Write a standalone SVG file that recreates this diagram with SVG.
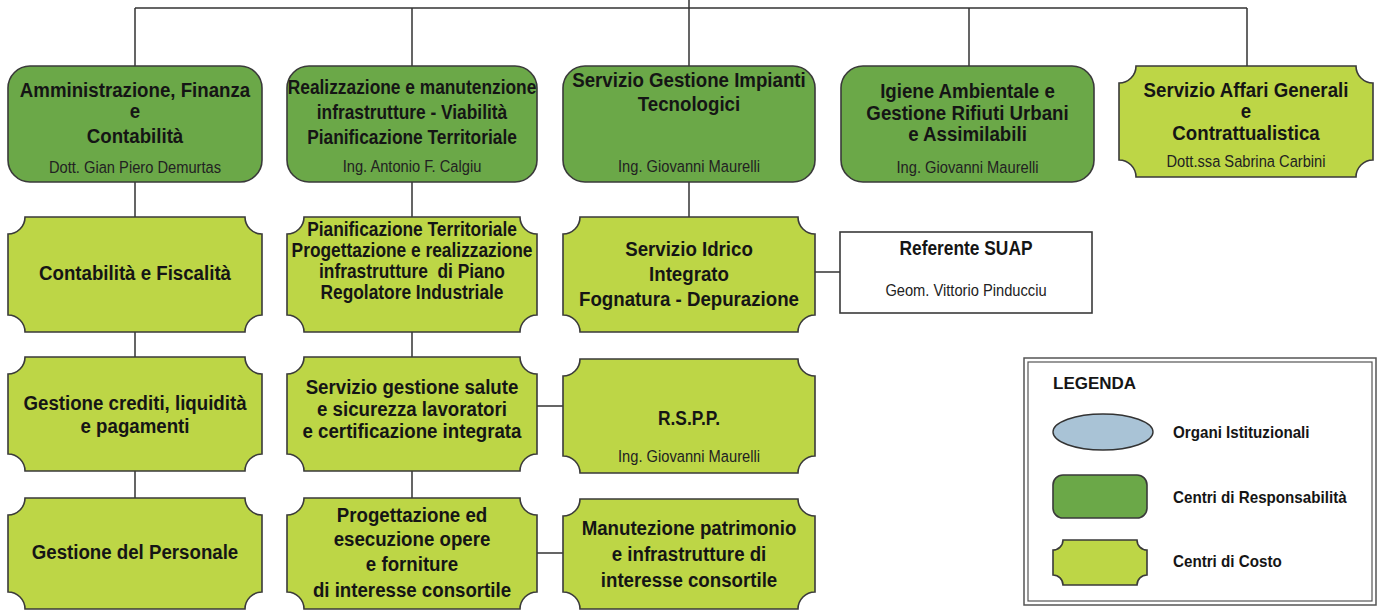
<svg xmlns="http://www.w3.org/2000/svg" width="1381" height="616" viewBox="0 0 1381 616">
<style>
  .bg { fill: #ffffff; }
  .dark { fill: #6ba848; stroke: #3a3a3a; stroke-width: 1.6; }
  .light { fill: #bdd646; stroke: #3a3a3a; stroke-width: 1.6; }
  .white { fill: #ffffff; stroke: #3a3a3a; stroke-width: 1.6; }
  .conn { fill: none; stroke: #333333; stroke-width: 1.5; }
  text { font-family: "Liberation Sans", Arial, sans-serif; fill: #151515; text-anchor: middle; }
  .t { font-weight: bold; font-size: 21px; }
  .tn { font-weight: bold; font-size: 19.5px; }
  .ts { font-weight: bold; font-size: 19.5px; }
  .s { font-weight: normal; font-size: 16.5px; fill: #222222; }
  .lg { font-weight: bold; font-size: 17px; text-anchor: start; }
  .li { font-weight: bold; font-size: 16.5px; text-anchor: start; }
  .frame { fill: #ffffff; stroke: #555555; stroke-width: 1.5; }
  .frame2 { fill: none; stroke: #555555; stroke-width: 1.2; }
  .ell { fill: #a9c3d6; stroke: #333333; stroke-width: 1.4; }
</style>
<rect class="bg" x="0" y="0" width="1381" height="616"/>

<g id="connectors">
  <path class="conn" d="M689,0 V8 M135,8 H1247 M135,8 V66 M412,8 V66 M689,8 V66 M969,8 V66 M1247,8 V66"/>
  <path class="conn" d="M135,182 V217 M135,332 V357 M135,471 V498"/>
  <path class="conn" d="M412,182 V217 M412,332 V357 M412,471 V498"/>
  <path class="conn" d="M689,182 V217"/>
  <path class="conn" d="M815,272 H840 M537,406 H563 M537,553 H563"/>
</g>

<g id="amministrazione">
  <rect class="dark" x="8" y="66" width="254" height="116" rx="22" ry="22"/>
  <g transform="translate(135 0) scale(0.89 1)">
    <text class="t" x="0" y="97">Amministrazione, Finanza</text>
    <text class="t" x="0" y="118">e</text>
    <text class="t" x="0" y="143">Contabilità</text>
    <text class="s" x="0" y="173">Dott. Gian Piero Demurtas</text>
  </g>
</g>

<g id="realizzazione">
  <rect class="dark" x="287" y="66" width="250" height="116" rx="22" ry="22"/>
  <g transform="translate(412 0) scale(0.89 1)">
    <text class="tn" x="0" y="94">Realizzazione e manutenzione</text>
    <text class="tn" x="0" y="119">infrastrutture - Viabilità</text>
    <text class="tn" x="0" y="144">Pianificazione Territoriale</text>
    <text class="s" x="0" y="172">Ing. Antonio F. Calgiu</text>
  </g>
</g>

<g id="impianti">
  <rect class="dark" x="563" y="66" width="252" height="116" rx="22" ry="22"/>
  <g transform="translate(689 0) scale(0.89 1)">
    <text class="t" x="0" y="87">Servizio Gestione Impianti</text>
    <text class="t" x="0" y="111">Tecnologici</text>
    <text class="s" x="0" y="172">Ing. Giovanni Maurelli</text>
  </g>
</g>

<g id="igiene">
  <rect class="dark" x="841" y="66" width="253" height="116" rx="22" ry="22"/>
  <g transform="translate(967.5 0) scale(0.89 1)">
    <text class="t" x="0" y="98">Igiene Ambientale e</text>
    <text class="t" x="0" y="120">Gestione Rifiuti Urbani</text>
    <text class="t" x="0" y="141">e Assimilabili</text>
    <text class="s" x="0" y="173">Ing. Giovanni Maurelli</text>
  </g>
</g>

<g id="affari-generali">
  <path class="light" d="M1136,66 H1356 A17 17 0 0 0 1373,83 V160 A17 17 0 0 0 1356,177 H1136 A17 17 0 0 0 1119,160 V83 A17 17 0 0 0 1136,66 Z"/>
  <g transform="translate(1246 0) scale(0.89 1)">
    <text class="t" x="0" y="97">Servizio Affari Generali</text>
    <text class="t" x="0" y="118">e</text>
    <text class="t" x="0" y="140">Contrattualistica</text>
    <text class="s" x="0" y="167">Dott.ssa Sabrina Carbini</text>
  </g>
</g>

<g id="contabilita-fiscalita">
  <path class="light" d="M25,217 H245 A17 17 0 0 0 262,234 V315 A17 17 0 0 0 245,332 H25 A17 17 0 0 0 8,315 V234 A17 17 0 0 0 25,217 Z"/>
  <g transform="translate(135 0) scale(0.89 1)">
    <text class="t" x="0" y="280">Contabilità e Fiscalità</text>
  </g>
</g>

<g id="pianificazione">
  <path class="light" d="M304,217 H520 A17 17 0 0 0 537,234 V315 A17 17 0 0 0 520,332 H304 A17 17 0 0 0 287,315 V234 A17 17 0 0 0 304,217 Z"/>
  <g transform="translate(412 0) scale(0.89 1)">
    <text class="tn" x="0" y="236">Pianificazione Territoriale</text>
    <text class="tn" x="0" y="257">Progettazione e realizzazione</text>
    <text class="tn" x="0" y="278" xml:space="preserve">infrastrutture  di Piano</text>
    <text class="tn" x="0" y="299">Regolatore Industriale</text>
  </g>
</g>

<g id="idrico">
  <path class="light" d="M580,217 H798 A17 17 0 0 0 815,234 V315 A17 17 0 0 0 798,332 H580 A17 17 0 0 0 563,315 V234 A17 17 0 0 0 580,217 Z"/>
  <g transform="translate(689 0) scale(0.89 1)">
    <text class="t" x="0" y="256">Servizio Idrico</text>
    <text class="t" x="0" y="281">Integrato</text>
    <text class="t" x="0" y="306">Fognatura - Depurazione</text>
  </g>
</g>

<g id="suap">
  <rect class="white" x="840" y="232" width="252" height="81"/>
  <g transform="translate(966 0) scale(0.89 1)">
    <text class="ts" x="0" y="255">Referente SUAP</text>
    <text class="s" x="0" y="296">Geom. Vittorio Pinducciu</text>
  </g>
</g>

<g id="crediti">
  <path class="light" d="M25,357 H245 A17 17 0 0 0 262,374 V454 A17 17 0 0 0 245,471 H25 A17 17 0 0 0 8,454 V374 A17 17 0 0 0 25,357 Z"/>
  <g transform="translate(135 0) scale(0.89 1)">
    <text class="t" x="0" y="410">Gestione crediti, liquidità</text>
    <text class="t" x="0" y="433">e pagamenti</text>
  </g>
</g>

<g id="salute-sicurezza">
  <path class="light" d="M304,357 H520 A17 17 0 0 0 537,374 V454 A17 17 0 0 0 520,471 H304 A17 17 0 0 0 287,454 V374 A17 17 0 0 0 304,357 Z"/>
  <g transform="translate(412 0) scale(0.89 1)">
    <text class="t" x="0" y="394">Servizio gestione salute</text>
    <text class="t" x="0" y="416">e sicurezza lavoratori</text>
    <text class="t" x="0" y="438">e certificazione integrata</text>
  </g>
</g>

<g id="rspp">
  <path class="light" d="M580,359 H798 A17 17 0 0 0 815,376 V456 A17 17 0 0 0 798,473 H580 A17 17 0 0 0 563,456 V376 A17 17 0 0 0 580,359 Z"/>
  <g transform="translate(689 0) scale(0.89 1)">
    <text class="ts" x="0" y="425">R.S.P.P.</text>
    <text class="s" x="0" y="462">Ing. Giovanni Maurelli</text>
  </g>
</g>

<g id="personale">
  <path class="light" d="M25,498 H245 A17 17 0 0 0 262,515 V592 A17 17 0 0 0 245,609 H25 A17 17 0 0 0 8,592 V515 A17 17 0 0 0 25,498 Z"/>
  <g transform="translate(135 0) scale(0.89 1)">
    <text class="t" x="0" y="559">Gestione del Personale</text>
  </g>
</g>

<g id="progettazione-opere">
  <path class="light" d="M304,498 H520 A17 17 0 0 0 537,515 V592 A17 17 0 0 0 520,609 H304 A17 17 0 0 0 287,592 V515 A17 17 0 0 0 304,498 Z"/>
  <g transform="translate(412 0) scale(0.89 1)">
    <text class="t" x="0" y="522">Progettazione ed</text>
    <text class="t" x="0" y="546">esecuzione opere</text>
    <text class="t" x="0" y="571">e forniture</text>
    <text class="t" x="0" y="597">di interesse consortile</text>
  </g>
</g>

<g id="manutenzione-patrimonio">
  <path class="light" d="M580,499 H798 A17 17 0 0 0 815,516 V592 A17 17 0 0 0 798,609 H580 A17 17 0 0 0 563,592 V516 A17 17 0 0 0 580,499 Z"/>
  <g transform="translate(689 0) scale(0.89 1)">
    <text class="t" x="0" y="535">Manutezione patrimonio</text>
    <text class="t" x="0" y="561">e infrastrutture di</text>
    <text class="t" x="0" y="587">interesse consortile</text>
  </g>
</g>

<g id="legenda">
  <rect class="frame" x="1024" y="358" width="352" height="247"/>
  <rect class="frame2" x="1028" y="362" width="344" height="239"/>
  <text class="lg" x="1053" y="389">LEGENDA</text>
  <ellipse class="ell" cx="1103" cy="432" rx="50" ry="18"/>
  <rect class="dark" x="1053" y="475" width="94" height="43" rx="10" ry="10"/>
  <path class="light" d="M1063,540 H1137 A10 10 0 0 0 1147,550 V575 A10 10 0 0 0 1137,585 H1063 A10 10 0 0 0 1053,575 V550 A10 10 0 0 0 1063,540 Z"/>
  <g transform="translate(1173 0) scale(0.92 1)">
    <text class="li" x="0" y="438">Organi Istituzionali</text>
    <text class="li" x="0" y="503">Centri di Responsabilità</text>
    <text class="li" x="0" y="567">Centri di Costo</text>
  </g>
</g>
</svg>
